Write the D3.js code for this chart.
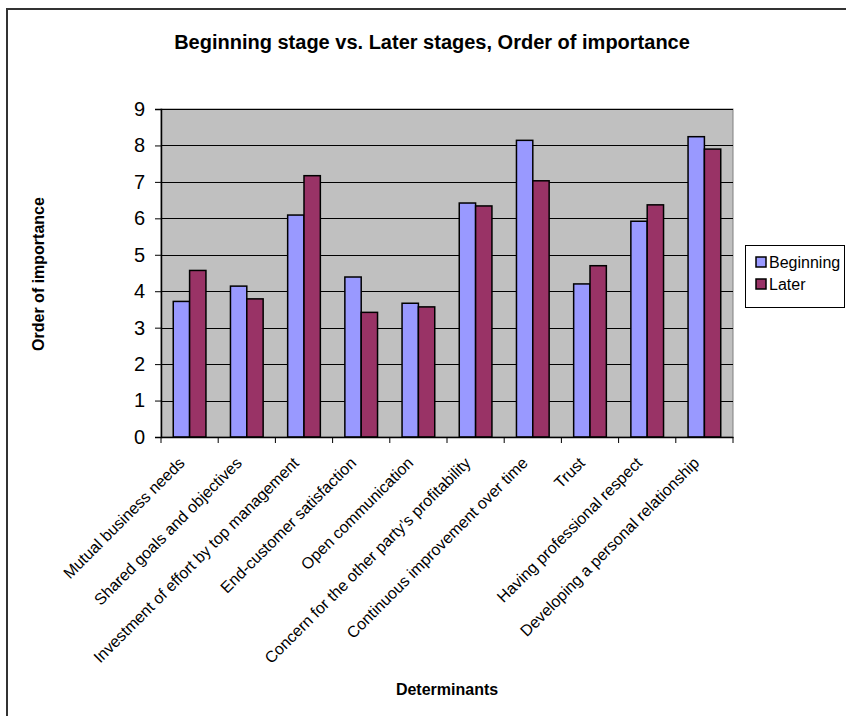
<!DOCTYPE html>
<html>
<head>
<meta charset="utf-8">
<script src="https://cdn.jsdelivr.net/npm/d3@7"></script>
<style>
  html, body { margin: 0; padding: 0; background: #fff; }
  svg { display: block; font-family: Arial, "Liberation Sans", sans-serif; }
</style>
</head>
<body>
<svg id="chart" width="846" height="716"></svg>
<script>
const categories = [
  "Mutual business needs",
  "Shared goals and objectives",
  "Investment of effort by top management",
  "End-customer satisfaction",
  "Open communication",
  "Concern for the other party\u2019s profitability",
  "Continuous improvement over time",
  "Trust",
  "Having professional respect",
  "Developing a personal relationship"
];
const seriesNames = ["Beginning", "Later"];
const beginning = [3.72, 4.14, 6.09, 4.39, 3.67, 6.42, 8.14, 4.20, 5.92, 8.24];
const later     = [4.57, 3.79, 7.17, 3.42, 3.57, 6.34, 7.03, 4.70, 6.37, 7.90];
const yTicks = [0, 1, 2, 3, 4, 5, 6, 7, 8, 9];
const colors = ["#9999FF", "#993366"];

const svg = d3.select("#chart");

// outer chart border (top and left visible)
svg.append("path")
  .attr("d", "M7,716 L7,9 L846,9")
  .attr("fill", "none").attr("stroke", "#333").attr("stroke-width", 2);

const plot = { left: 161, right: 733, top: 109, bottom: 437 };

const x = d3.scaleBand().domain(categories).range([plot.left, plot.right]).paddingInner(0).paddingOuter(0);
const x1 = d3.scaleBand().domain(seriesNames).range([0, x.bandwidth()]).paddingInner(0).paddingOuter(0.75);
const y = d3.scaleLinear().domain([0, 9]).range([plot.bottom, plot.top]);

// plot background
svg.append("rect")
  .attr("x", plot.left).attr("y", plot.top)
  .attr("width", plot.right - plot.left).attr("height", plot.bottom - plot.top)
  .attr("fill", "#C0C0C0").attr("stroke", "#808080").attr("stroke-width", 1);

// gridlines
svg.append("g").selectAll("line").data(yTicks.filter(d => d > 0)).join("line")
  .attr("x1", plot.left).attr("x2", plot.right)
  .attr("y1", d => Math.round(y(d)) + 0.5).attr("y2", d => Math.round(y(d)) + 0.5)
  .attr("stroke", "#000").attr("stroke-width", 1);

// bars
const data = categories.map((c, i) => ({ c, vals: [beginning[i], later[i]] }));
const groups = svg.append("g").selectAll("g").data(data).join("g")
  .attr("transform", d => `translate(${x(d.c)},0)`);
groups.selectAll("rect").data(d => d.vals.map((v, j) => ({ v, s: seriesNames[j], j }))).join("rect")
  .attr("x", d => x1(d.s))
  .attr("y", d => y(d.v))
  .attr("width", x1.bandwidth())
  .attr("height", d => y(0) - y(d.v))
  .attr("fill", d => colors[d.j])
  .attr("stroke", "#000").attr("stroke-width", 1.5);

// y axis
const yAxis = d3.axisLeft(y).tickValues(yTicks).tickSize(6).tickPadding(10).tickFormat(d3.format("d"));
const yg = svg.append("g").attr("transform", `translate(${plot.left},0)`).call(yAxis);
yg.select(".domain").attr("stroke", "#000").attr("stroke-width", 1.5);
yg.selectAll(".tick line").attr("stroke", "#000");
yg.selectAll(".tick text").attr("font-size", 20).attr("fill", "#000")
  .attr("font-family", "Arial, 'Liberation Sans', sans-serif");

// x axis
const xAxis = d3.axisBottom(x).tickSize(0).tickFormat("");
const xg = svg.append("g").attr("transform", `translate(0,${plot.bottom})`).call(xAxis);
xg.select(".domain").attr("stroke", "#000").attr("stroke-width", 1.5);
xg.selectAll(".tick").remove();
// tick marks at category boundaries
const bounds = categories.map(c => x(c)).concat([plot.right]);
xg.selectAll("line.bt").data(bounds).join("line").attr("class", "bt")
  .attr("x1", d => d).attr("x2", d => d).attr("y1", 0).attr("y2", 6)
  .attr("stroke", "#000");

// category labels
svg.append("g").selectAll("text").data(categories).join("text")
  .attr("transform", d => `translate(${x(d) + x.bandwidth() / 2 - 4},${plot.bottom + 27}) rotate(-45)`)
  .attr("text-anchor", "end")
  .attr("font-size", 16).attr("fill", "#000")
  .text(d => d);

// title
svg.append("text").attr("x", 432).attr("y", 49).attr("text-anchor", "middle")
  .attr("font-size", 20).attr("font-weight", "bold").text("Beginning stage vs. Later stages, Order of importance");

// axis titles
svg.append("text").attr("transform", "translate(44,274) rotate(-90)").attr("text-anchor", "middle")
  .attr("font-size", 16).attr("font-weight", "bold").text("Order of importance");
svg.append("text").attr("x", 447).attr("y", 695).attr("text-anchor", "middle")
  .attr("font-size", 16).attr("font-weight", "bold").text("Determinants");

// legend
const lg = svg.append("g");
lg.append("rect").attr("x", 745.5).attr("y", 245.5).attr("width", 99).attr("height", 62)
  .attr("fill", "#fff").attr("stroke", "#000").attr("stroke-width", 1);
const items = lg.selectAll("g").data(seriesNames).join("g")
  .attr("transform", (d, i) => `translate(756,${257 + i * 22})`);
items.append("rect").attr("x", 0).attr("y", 0).attr("width", 10).attr("height", 10)
  .attr("fill", (d, i) => colors[i]).attr("stroke", "#000").attr("stroke-width", 1.5);
items.append("text").attr("x", 13).attr("y", 11).attr("font-size", 16).text(d => d);
</script>
</body>
</html>
